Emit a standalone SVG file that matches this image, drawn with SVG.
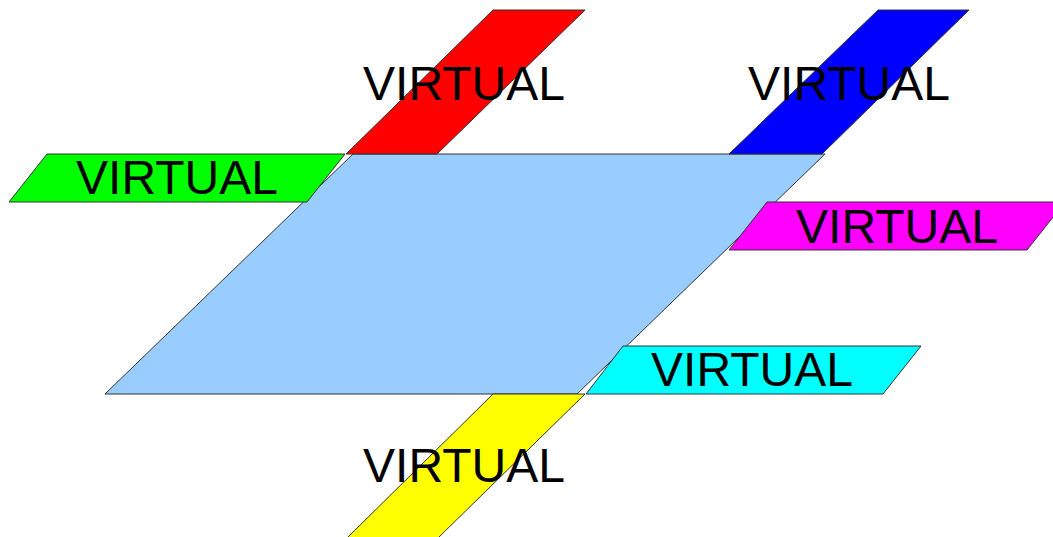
<svg xmlns="http://www.w3.org/2000/svg" width="1053" height="537" viewBox="0 0 1053 537">
<style>
.s{stroke:#333;stroke-width:1}
.t{font-family:"Liberation Sans",Arial,sans-serif;font-size:48px;fill:#000;text-anchor:middle}
</style>
<rect width="1053" height="537" fill="#fff"/>
<g id="main"><polygon class="s" fill="#99ccff" points="353,154 825,154 577,394 105,394"/></g>
<g id="red"><polygon class="s" fill="#ff0000" points="493,10 585,10 437,154 346,154"/><text class="t" x="464" y="100">VIRTUAL</text></g>
<g id="blue"><polygon class="s" fill="#0000ff" points="878,10 969,10 822,154 729,154"/><text class="t" x="849" y="100">VIRTUAL</text></g>
<g id="green"><polygon class="s" fill="#00ff00" points="47,154 345,154 307,202 9,202"/><text class="t" x="177" y="194">VIRTUAL</text></g>
<g id="magenta"><polygon class="s" fill="#ff00ff" points="767,202 1065,202 1027,250 729,250"/><text class="t" x="897" y="243">VIRTUAL</text></g>
<g id="cyan"><polygon class="s" fill="#00ffff" points="623,346 921,346 883,394 586,394"/><text class="t" x="752" y="386">VIRTUAL</text></g>
<g id="yellow"><polygon class="s" fill="#ffff00" points="493,394 585,394 438,538 347,538"/><text class="t" x="464" y="482">VIRTUAL</text></g>
<g id="connectors"></g>
</svg>
